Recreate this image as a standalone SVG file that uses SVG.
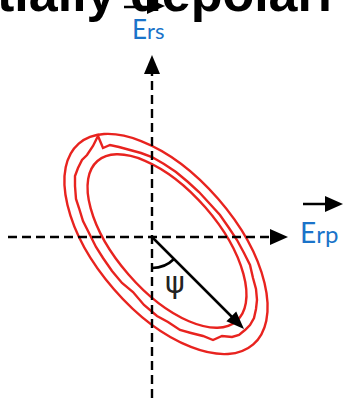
<svg xmlns="http://www.w3.org/2000/svg" width="345" height="399" viewBox="0 0 345 399">
<style>
.axis{stroke:#000;stroke-width:2.4;stroke-dasharray:9 5;fill:none}
.solid{stroke:#000;stroke-width:2.5;fill:none}
.head{fill:#000;stroke:none}
.ell{stroke:#e8231f;stroke-width:2.4;fill:none}
.lbl{fill:#1a73c9;font-family:Lato,"Open Sans",sans-serif}
.title{font-family:"Liberation Sans",Arial,sans-serif;font-weight:bold;fill:#000}
</style>
<rect width="345" height="399" fill="#fff"/>
<text class="title" x="-3" y="11" font-size="52">tially depolari</text>
<g id="ellipses">
<ellipse class="ell" cx="166" cy="244" rx="133" ry="69" transform="rotate(49 166 244)"/>
<ellipse class="ell" cx="167" cy="241" rx="106" ry="51" transform="rotate(49 167 241)"/>
<path class="ell" stroke-width="1.8" d="M245,330 L239,335 L232,337 L222,336 L213,340 L203,336 L191,333 L180,330 L168,322 L157,316 L144,305 L133,292 L122,283 L112,271 L103,258 L96,247 L89,233 L83,221 L79,208 L76,199 L75,186 L75,176 L78,168 L82,160 L87,155 L93,146 L98,136 L103,148 L110,145 L119,147 L130,150 L141,153 L152,157 L164,164 L176,172 L188,182 L199,192 L210,204 L220,215 L229,228 L237,240 L244,253 L250,265 L253,278 L256,289 L257,300 L256,309 L254,318 L250,325 Z"/>
</g>
<g id="connectors">
<line class="axis" x1="8" y1="237" x2="271" y2="237"/>
<polygon class="head" points="270,229 288,237 270,245"/>
<line class="axis" x1="152" y1="398" x2="152" y2="74"/>
<polygon class="head" points="144,74 152,55 160,74"/>
<line class="solid" x1="152" y1="237" x2="233" y2="318"/>
<polygon class="head" points="236.2,311.4 244,329 226.4,321.2"/>
<path class="solid" stroke-width="1.6" d="M152,268 A31,31 0 0,0 174,259"/>
<line class="solid" stroke-width="2.8" x1="124" y1="7" x2="150" y2="7"/>
<polygon class="head" points="147,-2 165,6 147,14"/>
<line class="solid" stroke-width="2.8" x1="303" y1="204" x2="328" y2="204"/>
<polygon class="head" points="325,196 343,204 325,212"/>
</g>
<g id="label-ers"><text class="lbl" x="132" y="39"><tspan font-size="26">E</tspan><tspan font-size="22">rs</tspan></text></g>
<g id="label-erp"><text class="lbl" x="300" y="243"><tspan font-size="28">E</tspan><tspan font-size="24">rp</tspan></text></g>
<g id="label-psi"><text x="175" y="293" font-size="30" text-anchor="middle" font-family="'DejaVu Sans',sans-serif" fill="#222">ψ</text></g>
</svg>
